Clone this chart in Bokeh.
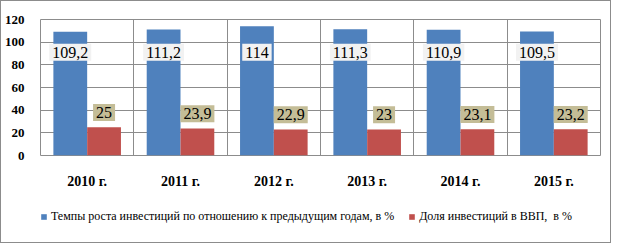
from bokeh.plotting import figure
from bokeh.layouts import column
from bokeh.models import (ColumnDataSource, Legend, LegendItem, FixedTicker, Range1d)
from bokeh.core.properties import value
from bokeh.transform import dodge
from bokeh.embed import file_html
from bokeh.resources import INLINE

years = ["2010 г.", "2011 г.", "2012 г.", "2013 г.", "2014 г.", "2015 г."]
growth = [109.2, 111.2, 114, 111.3, 110.9, 109.5]
share = [25, 23.9, 22.9, 23, 23.1, 23.2]
growth_labels = ["109,2", "111,2", "114", "111,3", "110,9", "109,5"]
share_labels = ["25", "23,9", "22,9", "23", "23,1", "23,2"]
series_names = ["Темпы роста инвестиций по отношению к предыдущим годам, в %",
                "Доля инвестиций в ВВП,  в %"]
y_ticks = [0, 20, 40, 60, 80, 100, 120]

BLUE = "#4f81bd"
RED = "#c0504d"
GRID = "#8c8c8c"
SERIF = "Liberation Serif"

xc = [i + 0.5 for i in range(len(years))]
src = ColumnDataSource(dict(
    x=xc, growth=growth, share=share,
    gl=growth_labels, sl=share_labels,
    gly=[91 for _ in growth], sly=[v + 13 for v in share],
))

p = figure(width=609, height=190, output_backend="svg", toolbar_location=None,
           x_range=Range1d(0, len(years)), y_range=Range1d(0, 120),
           min_border_left=35, min_border_right=10, min_border_top=18, min_border_bottom=33)
p.outline_line_color = GRID
p.outline_line_width = 1

bw = 0.362
p.vbar(x=dodge("x", -bw / 2), top="growth", width=bw, source=src, color=BLUE, line_color=None)
p.vbar(x=dodge("x", bw / 2), top="share", width=bw, source=src, color=RED, line_color=None)

p.text(x=dodge("x", -bw / 2), y="gly", text="gl", source=src,
       text_align="center", text_baseline="middle",
       text_font=value(SERIF), text_font_size="16px", text_color="black",
       background_fill_color="#f2f2f2", padding=3)
p.text(x=dodge("x", bw / 2), y="sly", text="sl", source=src,
       text_align="center", text_baseline="middle",
       text_font=value(SERIF), text_font_size="16px", text_color="black",
       background_fill_color="#c4bd97", padding=3)

# axes
p.yaxis.ticker = FixedTicker(ticks=y_ticks)
p.yaxis.axis_line_color = None
p.yaxis.major_tick_line_color = None
p.yaxis.minor_tick_line_color = None
p.yaxis.major_label_text_font = SERIF
p.yaxis.major_label_text_font_style = "bold"
p.yaxis.major_label_text_font_size = "13px"
p.yaxis.major_label_text_color = "black"
p.yaxis.major_label_standoff = 10

p.xaxis.ticker = FixedTicker(ticks=xc)
p.xaxis.major_label_overrides = {x: y for x, y in zip(xc, years)}
p.xaxis.axis_line_color = None
p.xaxis.major_tick_line_color = None
p.xaxis.minor_tick_line_color = None
p.xaxis.major_label_text_font = SERIF
p.xaxis.major_label_text_font_style = "bold"
p.xaxis.major_label_text_font_size = "14px"
p.xaxis.major_label_text_color = "black"
p.xaxis.major_label_standoff = 12

p.ygrid.ticker = FixedTicker(ticks=y_ticks)
p.ygrid.grid_line_color = GRID
p.xgrid.ticker = FixedTicker(ticks=list(range(1, len(years))))
p.xgrid.grid_line_color = GRID
p.background_fill_color = "white"
p.border_fill_color = "white"

# legend strip
p2 = figure(width=609, height=51, output_backend="svg", toolbar_location=None,
            x_axis_type=None, y_axis_type=None,
            x_range=Range1d(0, 1), y_range=Range1d(0, 1),
            min_border_left=0, min_border_right=0, min_border_top=0, min_border_bottom=0)
p2.outline_line_color = None
p2.grid.grid_line_color = None
lb = p2.vbar(x=[0.5], top=[0], width=0.01, color=BLUE, line_color=None)
lr = p2.vbar(x=[0.5], top=[0], width=0.01, color=RED, line_color=None)
legend = Legend(items=[
    LegendItem(label=series_names[0], renderers=[lb]),
    LegendItem(label=series_names[1], renderers=[lr]),
], orientation="horizontal", location=(0, 18), border_line_color=None,
    background_fill_alpha=0, padding=0, margin=0, spacing=14,
    glyph_width=7, glyph_height=7, label_standoff=4,
    label_text_font=SERIF, label_text_font_size="12px", label_text_color="black")
p2.add_layout(legend, "center")

layout = column(p, p2, spacing=0)
layout.styles = {"border": "1px solid #8c8c8c"}

open("out.html", "w").write(file_html(layout, INLINE))
